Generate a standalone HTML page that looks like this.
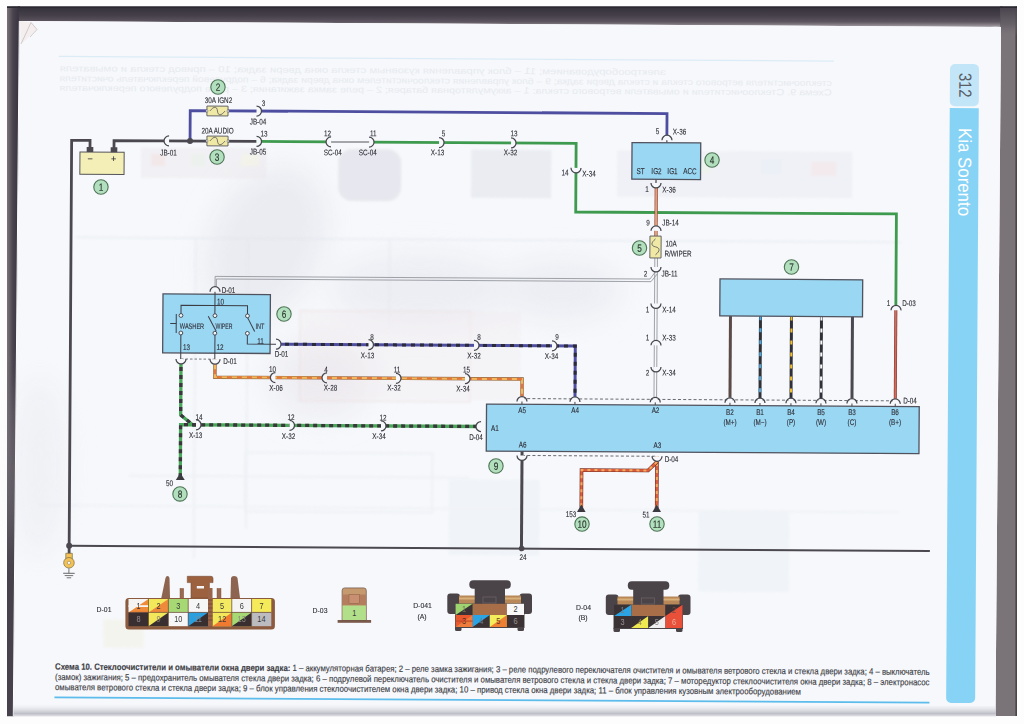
<!DOCTYPE html><html><head><meta charset="utf-8"><style>html,body{margin:0;padding:0;background:#fdfdfd;width:1024px;height:724px;overflow:hidden}svg{display:block}text{font-family:"Liberation Sans",sans-serif}</style></head><body>
<svg width="1024" height="724" viewBox="0 0 1024 724">
<defs><linearGradient id="gTop" x1="0" y1="0" x2="0" y2="1"><stop offset="0" stop-color="#34303a"/><stop offset="0.45" stop-color="#45404a"/><stop offset="0.75" stop-color="#5e5660"/><stop offset="1" stop-color="#a8a0a6"/></linearGradient><linearGradient id="gLeft" x1="0" y1="0" x2="1" y2="0"><stop offset="0" stop-color="#7a7378"/><stop offset="0.45" stop-color="#4a4450"/><stop offset="0.85" stop-color="#3a3540"/><stop offset="1" stop-color="#2a282e"/></linearGradient><linearGradient id="gRight" x1="0" y1="0" x2="1" y2="0"><stop offset="0" stop-color="#5a5560"/><stop offset="0.4" stop-color="#7a7479"/><stop offset="1" stop-color="#5c585e"/></linearGradient><linearGradient id="gBot" x1="0" y1="0" x2="0" y2="1"><stop offset="0" stop-color="#f3f4f8" stop-opacity="0"/><stop offset="0.75" stop-color="#bfbfc8"/><stop offset="1" stop-color="#e8e8ec"/></linearGradient><linearGradient id="gRT" x1="0" y1="0" x2="0" y2="1"><stop offset="0" stop-color="#45404a"/><stop offset="0.6" stop-color="#5e5860" stop-opacity="0.7"/><stop offset="1" stop-color="#7a7479" stop-opacity="0"/></linearGradient><linearGradient id="gFade" x1="0" y1="0" x2="0" y2="1"><stop offset="0" stop-color="#fff"/><stop offset="0.5" stop-color="#fff"/><stop offset="0.8" stop-color="#000"/></linearGradient><mask id="mLeft"><rect x="0" y="0" width="30" height="724" fill="url(#gFade)"/></mask></defs>
<rect width="1024" height="724" fill="#fdfdfd"/>
<polygon points="7,6.5 20,6.5 20,21 14,710 14,716.5 7,716.5" fill="#46414a"/>
<polygon points="7,6.5 20,6.5 20,21 14,710 14,716.5 7,716.5" fill="url(#gLeft)" mask="url(#mLeft)"/>
<polygon points="18,6.5 1003,6.5 1001,27 19,21" fill="url(#gTop)"/>
<polygon points="1000,6.5 1017,6.5 1017,716 995.5,716 1001,27" fill="#7a7479"/>
<line x1="1016.2" y1="6.5" x2="1016.2" y2="716" stroke="#4a4548" stroke-width="1.6"/>
<rect x="1000" y="6.5" width="17" height="30" fill="url(#gRT)"/>
<path d="M990,27 Q996,26 1001,27 L1000.5,37 Q995,31 990,27 Z" fill="#d8d4d8"/>
<rect x="7" y="6.5" width="1010" height="1.5" fill="#2a2830"/>
<polygon points="19.5,21 1001,27 995.5,716 13.5,716" fill="#f6f8fb"/>
<line x1="19.3" y1="21" x2="13.3" y2="716" stroke="#ffffff" stroke-width="1"/>
<polygon points="20,21 31,22.5 37,29.5 21,44" fill="#f4eeee"/>
<polyline points="21,44 31,22.5 37,29.5 30,37" fill="none" stroke="#b8aeb0" stroke-width="0.6"/>
<polygon points="13.5,703 996,706 996,717 13.5,717" fill="url(#gBot)"/>
<rect x="0" y="716.5" width="1024" height="8" fill="#fdfdfd"/>
<g transform="rotate(0.35 512 362)">
<defs><filter id="blur6" x="-50%" y="-50%" width="200%" height="200%"><feGaussianBlur stdDeviation="14"/></filter><filter id="blur2"><feGaussianBlur stdDeviation="1.2"/></filter></defs>
<g filter="url(#blur6)" opacity="0.35">
<ellipse cx="265" cy="245" rx="55" ry="80" fill="#d6d6e0" transform="rotate(25 265 245)"/>
<ellipse cx="420" cy="290" rx="90" ry="35" fill="#dcdce6"/>
<ellipse cx="560" cy="290" rx="60" ry="30" fill="#dcdce6"/>
<ellipse cx="320" cy="380" rx="50" ry="40" fill="#e0dce4"/>
<ellipse cx="40" cy="470" rx="25" ry="90" fill="#e4e4ea"/>
</g>
<g filter="url(#blur2)" opacity="0.45">
<rect x="140" y="150" width="125" height="30" fill="#ebe6ea"/>
<rect x="150" y="156" width="14" height="12" fill="#eed6d6"/><rect x="190" y="156" width="14" height="12" fill="#dfe9dc"/><rect x="240" y="156" width="18" height="12" fill="#f1edd8"/>
<rect x="337" y="150" width="63" height="52" rx="14" fill="#d6d6df"/>
<rect x="470" y="150" width="80" height="48" fill="#dcdee6"/>
<rect x="616" y="150" width="235" height="46" fill="#e8e8ef"/>
<rect x="640" y="158" width="20" height="14" fill="#eedada"/><rect x="690" y="158" width="20" height="14" fill="#e4eedd"/><rect x="760" y="158" width="20" height="14" fill="#dbe6f0"/><rect x="810" y="160" width="25" height="14" fill="#eedada"/>
<rect x="300" y="312" width="170" height="90" fill="none" stroke="#ecdcdc" stroke-width="2"/>
<rect x="450" y="480" width="90" height="75" fill="#e8eef4"/>
<rect x="700" y="510" width="90" height="80" fill="#e8eef4"/>
<line x1="75" y1="240" x2="900" y2="240" stroke="#dfe2ea" stroke-width="1.6"/>
<line x1="195" y1="240" x2="195" y2="560" stroke="#e2e4ec" stroke-width="1.6"/>
<line x1="247" y1="240" x2="247" y2="530" stroke="#e2e4ec" stroke-width="1.6"/>
<line x1="389" y1="240" x2="389" y2="330" stroke="#e2e4ec" stroke-width="1.6"/>
<rect x="246" y="454" width="187" height="59" fill="none" stroke="#e4e6ee" stroke-width="1.6"/>
<rect x="302" y="312" width="218" height="88" fill="#f2e6ea" opacity="0.6"/>
<line x1="130" y1="478" x2="470" y2="478" stroke="#e4e6ee" stroke-width="1.6"/>
<line x1="40" y1="508" x2="900" y2="510" stroke="#e8eaf0" stroke-width="1.5"/>
<rect x="105" y="622" width="40" height="28" fill="#f2f0e0"/>
</g>
<rect x="57" y="58.5" width="775" height="1.3" fill="#dcecf6"/>
<text transform="translate(664,74) scale(-1,1)" font-size="9" fill="#e8eaef" textLength="606" lengthAdjust="spacingAndGlyphs">электрооборудованием; 11 – блок управления кузовным стекла окна двери задка; 10 – привод стекла и омывателя</text>
<text transform="translate(830,84) scale(-1,1)" font-size="9" fill="#e8eaef" textLength="772" lengthAdjust="spacingAndGlyphs">стеклоочистителя ветрового стекла и стекла двери задка; 9 – блок управления стеклоочистителем окна двери задка; 6 – подрулевой переключатель очистителя</text>
<text transform="translate(830,93.5) scale(-1,1)" font-size="9" fill="#e8eaef" textLength="772" lengthAdjust="spacingAndGlyphs">Схема 9. Стеклоочистители и омыватели ветрового стекла: 1 – аккумуляторная батарея; 2 – реле замка зажигания; 3 – реле подрулевого переключателя</text>
<path d="M948.2,105.3 H977.2 V695.2 a5,5 0 0 1 -5,5 h-19 a5,5 0 0 1 -5,-5 Z" fill="#86d3f5"/>
<rect x="948.2" y="61.3" width="29" height="42.2" rx="5" fill="#c2e6f7"/>
<text transform="translate(957.5,82.5) rotate(90) scale(0.84,1)" text-anchor="middle" font-size="17.6" fill="#5a5c66">312</text>
<text transform="translate(957.2,169.3) rotate(90) scale(0.915,1)" text-anchor="middle" font-size="18.4" fill="#ffffff">Kia Sorento</text>
<polyline points="88.7,150.5 88.7,143 70.3,143 70.3,558" fill="none" stroke="#4b4850" stroke-width="2.8" />
<polyline points="112.7,150.5 112.7,143 255.2,143" fill="none" stroke="#4b4850" stroke-width="2.8" />
<polyline points="188.7,143 188.7,112.6 665.5,112.6 665.5,135.6" fill="none" stroke="#4e4ea0" stroke-width="2.8" />
<polyline points="255.2,143 329.7,143" fill="none" stroke="#3e9a4e" stroke-width="2.8" />
<polyline points="329.7,143 367.7,143" fill="none" stroke="#55555c" stroke-width="1.0" />
<polyline points="367.7,143 574.8,143 574.8,211.6 895.5,211.6 895.5,304.7" fill="none" stroke="#3e9a4e" stroke-width="2.8" />
<polyline points="665.5,135.6 665.5,141.8" fill="none" stroke="#4b4850" stroke-width="1.2" />
<polyline points="654.9,178.4 654.9,182.1" fill="none" stroke="#4b4850" stroke-width="1.2" />
<polyline points="655.2,182.1 655.2,235.2" fill="none" stroke="#7a4a3a" stroke-width="3.2" />
<polyline points="655.2,182.1 655.2,235.2" fill="none" stroke="#ea9a78" stroke-width="2.0" />
<polyline points="654.2,257 654.2,398" fill="none" stroke="#8a8c94" stroke-width="0.8" />
<polyline points="656.8,257 656.8,398" fill="none" stroke="#8a8c94" stroke-width="0.8" />
<polyline points="214.6,290.3 214.6,278.2 649.5,278.2 655.5,270" fill="none" stroke="#8a8c94" stroke-width="0.8" />
<polyline points="215.9,290.3 215.9,280.8 650.5,280.8 656.8,273" fill="none" stroke="#8a8c94" stroke-width="0.8" />
<polyline points="895.5,304.7 895.5,398" fill="none" stroke="#7a3a32" stroke-width="3.0" />
<polyline points="895.5,304.7 895.5,398" fill="none" stroke="#d56a5c" stroke-width="1.8" />
<polyline points="275.9,345.6 575.2,345.6 575.2,398" fill="none" stroke="#4e4ea0" stroke-width="3.0" />
<polyline points="275.9,345.6 575.2,345.6 575.2,398" fill="none" stroke="#2c2a36" stroke-width="3.0" stroke-dasharray="4 5" />
<polyline points="215,361 215,379 522.2,379 522.2,398" fill="none" stroke="#8a6040" stroke-width="3.4" />
<polyline points="215,361 215,379 522.2,379 522.2,398" fill="none" stroke="#f2b85a" stroke-width="2.2" />
<polyline points="215,361 215,379 522.2,379 522.2,398" fill="none" stroke="#e2743e" stroke-width="2.2" stroke-dasharray="5 5" />
<polyline points="181,361 181,417 193,426.7 481.4,426.7" fill="none" stroke="#4aa85a" stroke-width="3.3" />
<polyline points="181,361 181,417 193,426.7 481.4,426.7" fill="none" stroke="#3a363c" stroke-width="3.3" stroke-dasharray="4 4" />
<polyline points="196.4,426.7 181,426.7 181,478" fill="none" stroke="#4aa85a" stroke-width="3.3" />
<polyline points="196.4,426.7 181,426.7 181,478" fill="none" stroke="#3a363c" stroke-width="3.3" stroke-dasharray="4 4" />
<polygon points="181,475 176.5,482 185.5,482" fill="#3a3a40"/>
<polyline points="522.6,451 522.6,548.5" fill="none" stroke="#4b4850" stroke-width="3.0" />
<polyline points="657.6,455.1 657.6,507" fill="none" stroke="#6a3028" stroke-width="3.6" />
<polyline points="657.6,455.1 657.6,507" fill="none" stroke="#dc5e3c" stroke-width="2.4" />
<polyline points="657.6,455.1 657.6,507" fill="none" stroke="#f4a860" stroke-width="2.0" stroke-dasharray="3 4" />
<polyline points="657.6,461 648.7,469.6 582.2,469.6 582.2,507" fill="none" stroke="#6a3028" stroke-width="3.6" />
<polyline points="657.6,461 648.7,469.6 582.2,469.6 582.2,507" fill="none" stroke="#dc5e3c" stroke-width="2.4" />
<polyline points="657.6,461 648.7,469.6 582.2,469.6 582.2,507" fill="none" stroke="#f4a860" stroke-width="2.0" stroke-dasharray="3 4" />
<polygon points="657.6,503.6 653.3,511.2 661.9,511.2" fill="#3a3a40"/>
<polygon points="582.2,504 577.9,511.6 586.5,511.6" fill="#3a3a40"/>
<polyline points="70.2,548.5 931,548.5" fill="none" stroke="#4b4850" stroke-width="2.0" />
<circle cx="70.3" cy="548.5" r="3" fill="#4b4850"/>
<circle cx="522.8" cy="548.5" r="2.8" fill="#4b4850"/>
<circle cx="188.7" cy="143" r="3" fill="#4b4850"/>
<rect x="67" y="556" width="6.5" height="6" fill="#f2c257" stroke="#7a6a40" stroke-width="0.7"/>
<circle cx="70.2" cy="565.5" r="5.3" fill="#f2c257" stroke="#7a6a40" stroke-width="0.7"/>
<circle cx="70.2" cy="565.5" r="1.6" fill="#fff" stroke="#7a6a40" stroke-width="0.5"/>
<line x1="70.2" y1="571" x2="70.2" y2="576" stroke="#555" stroke-width="0.8"/>
<line x1="64.5" y1="576" x2="76" y2="576" stroke="#555" stroke-width="0.9"/>
<line x1="66" y1="578.3" x2="74.5" y2="578.3" stroke="#555" stroke-width="0.8"/>
<line x1="68" y1="580.5" x2="72.5" y2="580.5" stroke="#555" stroke-width="0.8"/>
<polyline points="730.2,314.7 730.2,398" fill="none" stroke="#5a4a48" stroke-width="3.0" />
<polyline points="760.2,314.7 760.2,398" fill="none" stroke="#303038" stroke-width="3.0" />
<polyline points="760.2,314.7 760.2,398" fill="none" stroke="#4aa8e0" stroke-width="2.0" stroke-dasharray="4 8" />
<polyline points="791.2,314.7 791.2,398" fill="none" stroke="#303038" stroke-width="3.0" />
<polyline points="791.2,314.7 791.2,398" fill="none" stroke="#f0c030" stroke-width="2.0" stroke-dasharray="4 8" />
<polyline points="821.2,314.7 821.2,398" fill="none" stroke="#303038" stroke-width="3.0" />
<polyline points="821.2,314.7 821.2,398" fill="none" stroke="#f8f8f8" stroke-width="2.0" stroke-dasharray="4 8" />
<polyline points="852.2,314.7 852.2,398" fill="none" stroke="#4a4850" stroke-width="3.0" />
<rect x="630.7" y="141.8" width="68.7" height="36.6" fill="#9ad7f3" stroke="#50525e" stroke-width="1.3"/>
<rect x="162.6" y="296" width="107.4" height="59" fill="#9ad7f3" stroke="#50525e" stroke-width="1.3"/>
<rect x="719.5" y="277.7" width="142.7" height="37" fill="#9ad7f3" stroke="#50525e" stroke-width="1.3"/>
<rect x="486.8" y="404.2" width="432.7" height="47" fill="#9ad7f3" stroke="#50525e" stroke-width="1.3"/>
<rect x="78.7" y="154.6" width="44.2" height="22.3" fill="#f3efb6" stroke="#55555a" stroke-width="1"/>
<rect x="85.4" y="149.6" width="6.6" height="5" fill="#4b4850"/>
<rect x="109.4" y="149.6" width="6.6" height="5" fill="#4b4850"/>
<text transform="translate(89,164.28) scale(1,1)" text-anchor="middle" font-size="9" fill="#2e2e36" stroke="#2e2e36" stroke-width="0.12" font-weight="normal">−</text>
<text transform="translate(112.5,164.28) scale(1,1)" text-anchor="middle" font-size="9" fill="#2e2e36" stroke="#2e2e36" stroke-width="0.12" font-weight="normal">+</text>
<rect x="205.4" y="107.9" width="21.1" height="9.8" fill="#f0e9a6" stroke="#55555a" stroke-width="0.9"/>
<path d="M208.4,112.80000000000001 C212.4,107.80000000000001 215.4,107.80000000000001 215.95000000000002,112.80000000000001 S219.5,117.80000000000001 223.5,112.80000000000001" fill="none" stroke="#55555a" stroke-width="0.8"/>
<circle cx="205.4" cy="112.80000000000001" r="1.1" fill="#fff" stroke="#55555a" stroke-width="0.5"/>
<circle cx="226.5" cy="112.80000000000001" r="1.1" fill="#fff" stroke="#55555a" stroke-width="0.5"/>
<rect x="205.6" y="137.9" width="21.1" height="9.8" fill="#f0e9a6" stroke="#55555a" stroke-width="0.9"/>
<path d="M208.6,142.8 C212.6,137.8 215.6,137.8 216.15,142.8 S219.7,147.8 223.7,142.8" fill="none" stroke="#55555a" stroke-width="0.8"/>
<circle cx="205.6" cy="142.8" r="1.1" fill="#fff" stroke="#55555a" stroke-width="0.5"/>
<circle cx="226.7" cy="142.8" r="1.1" fill="#fff" stroke="#55555a" stroke-width="0.5"/>
<rect x="649.2" y="235.2" width="11.2" height="21.9" fill="#f0e9a6" stroke="#55555a" stroke-width="0.9"/>
<path d="M654.8,238 C650,242 650,245 654.8,246 S659.5,250 654.8,254" fill="none" stroke="#55555a" stroke-width="0.8"/>
<g stroke="#3c3c44" stroke-width="1" fill="none"><line x1="214.6" y1="290.3" x2="214.6" y2="307.3"/><polyline points="180.7,317 180.7,307.3 247.2,307.3 247.2,317"/><line x1="214.6" y1="307.3" x2="214.6" y2="317"/><line x1="176" y1="316" x2="176" y2="335"/><line x1="170" y1="325.5" x2="176" y2="325.5"/><line x1="208" y1="318" x2="216" y2="333"/><line x1="247.2" y1="319" x2="254.5" y2="333"/><polyline points="180.7,336 180.7,361"/><polyline points="214.8,336 214.8,361"/><polyline points="247.2,336 247.2,345.6 275.9,345.6"/></g>
<circle cx="180.7" cy="317.5" r="1.9" fill="#f4f6f8" stroke="#3c3c44" stroke-width="0.9"/>
<circle cx="180.7" cy="335" r="1.9" fill="#f4f6f8" stroke="#3c3c44" stroke-width="0.9"/>
<circle cx="214.7" cy="317.5" r="1.9" fill="#f4f6f8" stroke="#3c3c44" stroke-width="0.9"/>
<circle cx="214.7" cy="335" r="1.9" fill="#f4f6f8" stroke="#3c3c44" stroke-width="0.9"/>
<circle cx="247.2" cy="317.5" r="1.9" fill="#f4f6f8" stroke="#3c3c44" stroke-width="0.9"/>
<circle cx="247.2" cy="335" r="1.9" fill="#f4f6f8" stroke="#3c3c44" stroke-width="0.9"/>
<line x1="181" y1="361" x2="215" y2="361" stroke="#6a6a72" stroke-width="0.9" stroke-dasharray="2.5 2"/>
<line x1="522.2" y1="398.5" x2="895.5" y2="398.5" stroke="#5a5a62" stroke-width="0.9" stroke-dasharray="3 2.2"/>
<line x1="522.6" y1="455.4" x2="657.6" y2="455.4" stroke="#5a5a62" stroke-width="0.9" stroke-dasharray="3 2.2"/>
<line x1="522.2" y1="398" x2="522.2" y2="404.2" stroke="#45454d" stroke-width="1"/>
<line x1="575.2" y1="398" x2="575.2" y2="404.2" stroke="#45454d" stroke-width="1"/>
<line x1="655.5" y1="398" x2="655.5" y2="404.2" stroke="#45454d" stroke-width="1"/>
<line x1="730.2" y1="398" x2="730.2" y2="404.2" stroke="#45454d" stroke-width="1"/>
<line x1="760.2" y1="398" x2="760.2" y2="404.2" stroke="#45454d" stroke-width="1"/>
<line x1="791.2" y1="398" x2="791.2" y2="404.2" stroke="#45454d" stroke-width="1"/>
<line x1="821.2" y1="398" x2="821.2" y2="404.2" stroke="#45454d" stroke-width="1"/>
<line x1="852.2" y1="398" x2="852.2" y2="404.2" stroke="#45454d" stroke-width="1"/>
<line x1="895.5" y1="398" x2="895.5" y2="404.2" stroke="#45454d" stroke-width="1"/>
<rect x="162.7" y="140.5" width="5" height="5" fill="#f6f8fb"/>
<path d="M167.7,138 A5,5 0 0 0 167.7,148" fill="none" stroke="#45454d" stroke-width="1.25"/>
<rect x="255" y="110.1" width="5" height="5" fill="#f6f8fb"/>
<path d="M255,107.6 A5,5 0 0 1 255,117.6" fill="none" stroke="#45454d" stroke-width="1.25"/>
<rect x="255.2" y="140.5" width="5" height="5" fill="#f6f8fb"/>
<path d="M255.2,138 A5,5 0 0 1 255.2,148" fill="none" stroke="#45454d" stroke-width="1.25"/>
<rect x="324.7" y="140.5" width="5" height="5" fill="#f6f8fb"/>
<path d="M329.7,138 A5,5 0 0 0 329.7,148" fill="none" stroke="#45454d" stroke-width="1.25"/>
<rect x="367.7" y="140.5" width="5" height="5" fill="#f6f8fb"/>
<path d="M367.7,138 A5,5 0 0 1 367.7,148" fill="none" stroke="#45454d" stroke-width="1.25"/>
<rect x="437.7" y="140.5" width="5" height="5" fill="#f6f8fb"/>
<path d="M437.7,138 A5,5 0 0 1 437.7,148" fill="none" stroke="#45454d" stroke-width="1.25"/>
<rect x="509.7" y="140.5" width="5" height="5" fill="#f6f8fb"/>
<path d="M509.7,138 A5,5 0 0 1 509.7,148" fill="none" stroke="#45454d" stroke-width="1.25"/>
<rect x="663.1" y="134.3" width="5" height="5" fill="#f6f8fb"/>
<path d="M660.6,139.3 A5,5 0 0 1 670.6,139.3" fill="none" stroke="#45454d" stroke-width="1.25"/>
<rect x="572.3" y="167.5" width="5" height="5" fill="#f6f8fb"/>
<path d="M569.8,167.5 A5,5 0 0 0 579.8,167.5" fill="none" stroke="#45454d" stroke-width="1.25"/>
<rect x="652.4" y="182.1" width="5" height="5" fill="#f6f8fb"/>
<path d="M649.9,182.1 A5,5 0 0 0 659.9,182.1" fill="none" stroke="#45454d" stroke-width="1.25"/>
<rect x="652.7" y="225" width="5" height="5" fill="#f6f8fb"/>
<path d="M650.2,230 A5,5 0 0 1 660.2,230" fill="none" stroke="#45454d" stroke-width="1.25"/>
<rect x="652.9" y="266.1" width="5" height="5" fill="#f6f8fb"/>
<path d="M650.4,266.1 A5,5 0 0 0 660.4,266.1" fill="none" stroke="#45454d" stroke-width="1.25"/>
<rect x="653.1" y="302.6" width="5" height="5" fill="#f6f8fb"/>
<path d="M650.6,302.6 A5,5 0 0 0 660.6,302.6" fill="none" stroke="#45454d" stroke-width="1.25"/>
<rect x="653.4" y="339.5" width="5" height="5" fill="#f6f8fb"/>
<path d="M650.9,344.5 A5,5 0 0 1 660.9,344.5" fill="none" stroke="#45454d" stroke-width="1.25"/>
<rect x="653.5" y="366.1" width="5" height="5" fill="#f6f8fb"/>
<path d="M651,366.1 A5,5 0 0 0 661,366.1" fill="none" stroke="#45454d" stroke-width="1.25"/>
<rect x="212.1" y="288.5" width="5" height="5" fill="#f6f8fb"/>
<path d="M209.6,293.5 A5,5 0 0 1 219.6,293.5" fill="none" stroke="#45454d" stroke-width="1.25"/>
<rect x="275.9" y="343.1" width="5" height="5" fill="#f6f8fb"/>
<path d="M275.9,340.6 A5,5 0 0 1 275.9,350.6" fill="none" stroke="#45454d" stroke-width="1.25"/>
<rect x="178.5" y="361" width="5" height="5" fill="#f6f8fb"/>
<path d="M176,361 A5,5 0 0 0 186,361" fill="none" stroke="#45454d" stroke-width="1.25"/>
<rect x="212.5" y="361" width="5" height="5" fill="#f6f8fb"/>
<path d="M210,361 A5,5 0 0 0 220,361" fill="none" stroke="#45454d" stroke-width="1.25"/>
<rect x="368.4" y="343.1" width="5" height="5" fill="#f6f8fb"/>
<path d="M368.4,340.6 A5,5 0 0 1 368.4,350.6" fill="none" stroke="#45454d" stroke-width="1.25"/>
<rect x="473.9" y="343.1" width="5" height="5" fill="#f6f8fb"/>
<path d="M473.9,340.6 A5,5 0 0 1 473.9,350.6" fill="none" stroke="#45454d" stroke-width="1.25"/>
<rect x="551.9" y="343.1" width="5" height="5" fill="#f6f8fb"/>
<path d="M551.9,340.6 A5,5 0 0 1 551.9,350.6" fill="none" stroke="#45454d" stroke-width="1.25"/>
<rect x="270.5" y="376.5" width="5" height="5" fill="#f6f8fb"/>
<path d="M275.5,374 A5,5 0 0 0 275.5,384" fill="none" stroke="#45454d" stroke-width="1.25"/>
<rect x="322.1" y="376.5" width="5" height="5" fill="#f6f8fb"/>
<path d="M327.1,374 A5,5 0 0 0 327.1,384" fill="none" stroke="#45454d" stroke-width="1.25"/>
<rect x="396.1" y="376.5" width="5" height="5" fill="#f6f8fb"/>
<path d="M396.1,374 A5,5 0 0 1 396.1,384" fill="none" stroke="#45454d" stroke-width="1.25"/>
<rect x="465.1" y="376.5" width="5" height="5" fill="#f6f8fb"/>
<path d="M465.1,374 A5,5 0 0 1 465.1,384" fill="none" stroke="#45454d" stroke-width="1.25"/>
<rect x="519.7" y="396.5" width="5" height="5" fill="#f6f8fb"/>
<path d="M517.2,401.5 A5,5 0 0 1 527.2,401.5" fill="none" stroke="#45454d" stroke-width="1.25"/>
<rect x="572.7" y="396.5" width="5" height="5" fill="#f6f8fb"/>
<path d="M570.2,401.5 A5,5 0 0 1 580.2,401.5" fill="none" stroke="#45454d" stroke-width="1.25"/>
<rect x="653" y="396.5" width="5" height="5" fill="#f6f8fb"/>
<path d="M650.5,401.5 A5,5 0 0 1 660.5,401.5" fill="none" stroke="#45454d" stroke-width="1.25"/>
<rect x="727.7" y="396.5" width="5" height="5" fill="#f6f8fb"/>
<path d="M725.2,401.5 A5,5 0 0 1 735.2,401.5" fill="none" stroke="#45454d" stroke-width="1.25"/>
<rect x="757.7" y="396.5" width="5" height="5" fill="#f6f8fb"/>
<path d="M755.2,401.5 A5,5 0 0 1 765.2,401.5" fill="none" stroke="#45454d" stroke-width="1.25"/>
<rect x="788.7" y="396.5" width="5" height="5" fill="#f6f8fb"/>
<path d="M786.2,401.5 A5,5 0 0 1 796.2,401.5" fill="none" stroke="#45454d" stroke-width="1.25"/>
<rect x="818.7" y="396.5" width="5" height="5" fill="#f6f8fb"/>
<path d="M816.2,401.5 A5,5 0 0 1 826.2,401.5" fill="none" stroke="#45454d" stroke-width="1.25"/>
<rect x="849.7" y="396.5" width="5" height="5" fill="#f6f8fb"/>
<path d="M847.2,401.5 A5,5 0 0 1 857.2,401.5" fill="none" stroke="#45454d" stroke-width="1.25"/>
<rect x="893" y="396.5" width="5" height="5" fill="#f6f8fb"/>
<path d="M890.5,401.5 A5,5 0 0 1 900.5,401.5" fill="none" stroke="#45454d" stroke-width="1.25"/>
<rect x="893.2" y="303" width="5" height="5" fill="#f6f8fb"/>
<path d="M890.7,308 A5,5 0 0 1 900.7,308" fill="none" stroke="#45454d" stroke-width="1.25"/>
<rect x="196.4" y="424.2" width="5" height="5" fill="#f6f8fb"/>
<path d="M196.4,421.7 A5,5 0 0 1 196.4,431.7" fill="none" stroke="#45454d" stroke-width="1.25"/>
<rect x="289.9" y="424.2" width="5" height="5" fill="#f6f8fb"/>
<path d="M289.9,421.7 A5,5 0 0 1 289.9,431.7" fill="none" stroke="#45454d" stroke-width="1.25"/>
<rect x="381.4" y="424.2" width="5" height="5" fill="#f6f8fb"/>
<path d="M381.4,421.7 A5,5 0 0 1 381.4,431.7" fill="none" stroke="#45454d" stroke-width="1.25"/>
<rect x="476.4" y="424.2" width="5" height="5" fill="#f6f8fb"/>
<path d="M481.4,421.7 A5,5 0 0 0 481.4,431.7" fill="none" stroke="#45454d" stroke-width="1.25"/>
<rect x="520.1" y="455.4" width="5" height="5" fill="#f6f8fb"/>
<path d="M517.6,455.4 A5,5 0 0 0 527.6,455.4" fill="none" stroke="#45454d" stroke-width="1.25"/>
<rect x="655.1" y="455.4" width="5" height="5" fill="#f6f8fb"/>
<path d="M652.6,455.4 A5,5 0 0 0 662.6,455.4" fill="none" stroke="#45454d" stroke-width="1.25"/>
<text transform="translate(216.91,104.79) scale(0.77,1)" text-anchor="middle" font-size="8.2" fill="#2e2e36" stroke="#2e2e36" stroke-width="0.12" font-weight="normal">30A  IGN2</text>
<text transform="translate(216.09,135.29) scale(0.77,1)" text-anchor="middle" font-size="8.2" fill="#2e2e36" stroke="#2e2e36" stroke-width="0.12" font-weight="normal">20A  AUDIO</text>
<text transform="translate(261.92,107.51) scale(0.77,1)" text-anchor="middle" font-size="8.2" fill="#2e2e36" stroke="#2e2e36" stroke-width="0.12" font-weight="normal">3</text>
<text transform="translate(256.54,126.04) scale(0.77,1)" text-anchor="middle" font-size="8.2" fill="#2e2e36" stroke="#2e2e36" stroke-width="0.12" font-weight="normal">JB-04</text>
<text transform="translate(262.61,138.01) scale(0.77,1)" text-anchor="middle" font-size="8.2" fill="#2e2e36" stroke="#2e2e36" stroke-width="0.12" font-weight="normal">13</text>
<text transform="translate(256.72,156.04) scale(0.77,1)" text-anchor="middle" font-size="8.2" fill="#2e2e36" stroke="#2e2e36" stroke-width="0.12" font-weight="normal">JB-05</text>
<text transform="translate(167.23,157.59) scale(0.77,1)" text-anchor="middle" font-size="8.2" fill="#2e2e36" stroke="#2e2e36" stroke-width="0.12" font-weight="normal">JB-01</text>
<text transform="translate(326.11,137.42) scale(0.77,1)" text-anchor="middle" font-size="8.2" fill="#2e2e36" stroke="#2e2e36" stroke-width="0.12" font-weight="normal">12</text>
<text transform="translate(331.52,156.39) scale(0.77,1)" text-anchor="middle" font-size="8.2" fill="#2e2e36" stroke="#2e2e36" stroke-width="0.12" font-weight="normal">SC-04</text>
<text transform="translate(371.91,137.14) scale(0.77,1)" text-anchor="middle" font-size="8.2" fill="#2e2e36" stroke="#2e2e36" stroke-width="0.12" font-weight="normal">11</text>
<text transform="translate(366.52,156.17) scale(0.77,1)" text-anchor="middle" font-size="8.2" fill="#2e2e36" stroke="#2e2e36" stroke-width="0.12" font-weight="normal">SC-04</text>
<text transform="translate(442.1,136.71) scale(0.77,1)" text-anchor="middle" font-size="8.2" fill="#2e2e36" stroke="#2e2e36" stroke-width="0.12" font-weight="normal">5</text>
<text transform="translate(436.22,155.75) scale(0.77,1)" text-anchor="middle" font-size="8.2" fill="#2e2e36" stroke="#2e2e36" stroke-width="0.12" font-weight="normal">X-13</text>
<text transform="translate(512.6,136.28) scale(0.77,1)" text-anchor="middle" font-size="8.2" fill="#2e2e36" stroke="#2e2e36" stroke-width="0.12" font-weight="normal">13</text>
<text transform="translate(509.22,155.3) scale(0.77,1)" text-anchor="middle" font-size="8.2" fill="#2e2e36" stroke="#2e2e36" stroke-width="0.12" font-weight="normal">X-32</text>
<text transform="translate(563.84,175.17) scale(0.77,1)" text-anchor="middle" font-size="8.2" fill="#2e2e36" stroke="#2e2e36" stroke-width="0.12" font-weight="normal">14</text>
<text transform="translate(587.85,176.02) scale(0.77,1)" text-anchor="middle" font-size="8.2" fill="#2e2e36" stroke="#2e2e36" stroke-width="0.12" font-weight="normal">X-34</text>
<text transform="translate(656.09,133.1) scale(0.77,1)" text-anchor="middle" font-size="8.2" fill="#2e2e36" stroke="#2e2e36" stroke-width="0.12" font-weight="normal">5</text>
<text transform="translate(678.09,133.47) scale(0.77,1)" text-anchor="middle" font-size="8.2" fill="#2e2e36" stroke="#2e2e36" stroke-width="0.12" font-weight="normal">X-36</text>
<text transform="translate(645.94,191.17) scale(0.77,1)" text-anchor="middle" font-size="8.2" fill="#2e2e36" stroke="#2e2e36" stroke-width="0.12" font-weight="normal">1</text>
<text transform="translate(667.94,191.53) scale(0.77,1)" text-anchor="middle" font-size="8.2" fill="#2e2e36" stroke="#2e2e36" stroke-width="0.12" font-weight="normal">X-36</text>
<text transform="translate(647.15,224.66) scale(0.77,1)" text-anchor="middle" font-size="8.2" fill="#2e2e36" stroke="#2e2e36" stroke-width="0.12" font-weight="normal">9</text>
<text transform="translate(669.64,224.52) scale(0.77,1)" text-anchor="middle" font-size="8.2" fill="#2e2e36" stroke="#2e2e36" stroke-width="0.12" font-weight="normal">JB-14</text>
<text transform="translate(670.27,245.52) scale(0.77,1)" text-anchor="middle" font-size="8.2" fill="#2e2e36" stroke="#2e2e36" stroke-width="0.12" font-weight="normal">10A</text>
<text transform="translate(677.33,255.48) scale(0.77,1)" text-anchor="middle" font-size="8.2" fill="#2e2e36" stroke="#2e2e36" stroke-width="0.12" font-weight="normal">R/WIPER</text>
<text transform="translate(644.96,275.68) scale(0.77,1)" text-anchor="middle" font-size="8.2" fill="#2e2e36" stroke="#2e2e36" stroke-width="0.12" font-weight="normal">2</text>
<text transform="translate(668.96,275.53) scale(0.77,1)" text-anchor="middle" font-size="8.2" fill="#2e2e36" stroke="#2e2e36" stroke-width="0.12" font-weight="normal">JB-11</text>
<text transform="translate(647.18,311.66) scale(0.77,1)" text-anchor="middle" font-size="8.2" fill="#2e2e36" stroke="#2e2e36" stroke-width="0.12" font-weight="normal">1</text>
<text transform="translate(668.68,311.53) scale(0.77,1)" text-anchor="middle" font-size="8.2" fill="#2e2e36" stroke="#2e2e36" stroke-width="0.12" font-weight="normal">X-14</text>
<text transform="translate(647.35,339.66) scale(0.77,1)" text-anchor="middle" font-size="8.2" fill="#2e2e36" stroke="#2e2e36" stroke-width="0.12" font-weight="normal">1</text>
<text transform="translate(668.85,339.53) scale(0.77,1)" text-anchor="middle" font-size="8.2" fill="#2e2e36" stroke="#2e2e36" stroke-width="0.12" font-weight="normal">X-33</text>
<text transform="translate(647.56,374.66) scale(0.77,1)" text-anchor="middle" font-size="8.2" fill="#2e2e36" stroke="#2e2e36" stroke-width="0.12" font-weight="normal">2</text>
<text transform="translate(669.06,374.53) scale(0.77,1)" text-anchor="middle" font-size="8.2" fill="#2e2e36" stroke="#2e2e36" stroke-width="0.12" font-weight="normal">X-34</text>
<text transform="translate(228.07,294.72) scale(0.77,1)" text-anchor="middle" font-size="8.2" fill="#2e2e36" stroke="#2e2e36" stroke-width="0.12" font-weight="normal">D-01</text>
<text transform="translate(220.14,306.27) scale(0.77,1)" text-anchor="middle" font-size="8.2" fill="#2e2e36" stroke="#2e2e36" stroke-width="0.12" font-weight="normal">10</text>
<text transform="translate(186.41,351.98) scale(0.77,1)" text-anchor="middle" font-size="8.2" fill="#2e2e36" stroke="#2e2e36" stroke-width="0.12" font-weight="normal">13</text>
<text transform="translate(219.91,351.77) scale(0.77,1)" text-anchor="middle" font-size="8.2" fill="#2e2e36" stroke="#2e2e36" stroke-width="0.12" font-weight="normal">12</text>
<text transform="translate(260.38,345.53) scale(0.77,1)" text-anchor="middle" font-size="8.2" fill="#2e2e36" stroke="#2e2e36" stroke-width="0.12" font-weight="normal">11</text>
<text transform="translate(281.45,358.2) scale(0.77,1)" text-anchor="middle" font-size="8.2" fill="#2e2e36" stroke="#2e2e36" stroke-width="0.12" font-weight="normal">D-01</text>
<text transform="translate(230,365.71) scale(0.77,1)" text-anchor="middle" font-size="8.2" fill="#2e2e36" stroke="#2e2e36" stroke-width="0.12" font-weight="normal">D-01</text>
<text transform="translate(371.85,340.64) scale(0.77,1)" text-anchor="middle" font-size="8.2" fill="#2e2e36" stroke="#2e2e36" stroke-width="0.12" font-weight="normal">8</text>
<text transform="translate(367.46,359.07) scale(0.77,1)" text-anchor="middle" font-size="8.2" fill="#2e2e36" stroke="#2e2e36" stroke-width="0.12" font-weight="normal">X-13</text>
<text transform="translate(478.85,339.99) scale(0.77,1)" text-anchor="middle" font-size="8.2" fill="#2e2e36" stroke="#2e2e36" stroke-width="0.12" font-weight="normal">8</text>
<text transform="translate(473.96,358.72) scale(0.77,1)" text-anchor="middle" font-size="8.2" fill="#2e2e36" stroke="#2e2e36" stroke-width="0.12" font-weight="normal">X-32</text>
<text transform="translate(556.85,339.51) scale(0.77,1)" text-anchor="middle" font-size="8.2" fill="#2e2e36" stroke="#2e2e36" stroke-width="0.12" font-weight="normal">9</text>
<text transform="translate(551.46,358.75) scale(0.77,1)" text-anchor="middle" font-size="8.2" fill="#2e2e36" stroke="#2e2e36" stroke-width="0.12" font-weight="normal">X-34</text>
<text transform="translate(272.55,373.45) scale(0.77,1)" text-anchor="middle" font-size="8.2" fill="#2e2e36" stroke="#2e2e36" stroke-width="0.12" font-weight="normal">10</text>
<text transform="translate(276.16,392.13) scale(0.77,1)" text-anchor="middle" font-size="8.2" fill="#2e2e36" stroke="#2e2e36" stroke-width="0.12" font-weight="normal">X-06</text>
<text transform="translate(326.05,373.62) scale(0.77,1)" text-anchor="middle" font-size="8.2" fill="#2e2e36" stroke="#2e2e36" stroke-width="0.12" font-weight="normal">4</text>
<text transform="translate(330.66,391.6) scale(0.77,1)" text-anchor="middle" font-size="8.2" fill="#2e2e36" stroke="#2e2e36" stroke-width="0.12" font-weight="normal">X-28</text>
<text transform="translate(397.05,373.19) scale(0.77,1)" text-anchor="middle" font-size="8.2" fill="#2e2e36" stroke="#2e2e36" stroke-width="0.12" font-weight="normal">11</text>
<text transform="translate(394.16,391.21) scale(0.77,1)" text-anchor="middle" font-size="8.2" fill="#2e2e36" stroke="#2e2e36" stroke-width="0.12" font-weight="normal">X-32</text>
<text transform="translate(466.55,372.77) scale(0.77,1)" text-anchor="middle" font-size="8.2" fill="#2e2e36" stroke="#2e2e36" stroke-width="0.12" font-weight="normal">15</text>
<text transform="translate(463.16,391.79) scale(0.77,1)" text-anchor="middle" font-size="8.2" fill="#2e2e36" stroke="#2e2e36" stroke-width="0.12" font-weight="normal">X-34</text>
<text transform="translate(522.49,412.93) scale(0.77,1)" text-anchor="middle" font-size="8.2" fill="#2e2e36" stroke="#2e2e36" stroke-width="0.12" font-weight="normal">A5</text>
<text transform="translate(575.49,412.6) scale(0.77,1)" text-anchor="middle" font-size="8.2" fill="#2e2e36" stroke="#2e2e36" stroke-width="0.12" font-weight="normal">A4</text>
<text transform="translate(655.79,412.11) scale(0.77,1)" text-anchor="middle" font-size="8.2" fill="#2e2e36" stroke="#2e2e36" stroke-width="0.12" font-weight="normal">A2</text>
<text transform="translate(730.3,413.66) scale(0.77,1)" text-anchor="middle" font-size="8.2" fill="#2e2e36" stroke="#2e2e36" stroke-width="0.12" font-weight="normal">B2</text>
<text transform="translate(730.36,423.66) scale(0.77,1)" text-anchor="middle" font-size="8.2" fill="#2e2e36" stroke="#2e2e36" stroke-width="0.12" font-weight="normal">(M+)</text>
<text transform="translate(760.3,413.47) scale(0.77,1)" text-anchor="middle" font-size="8.2" fill="#2e2e36" stroke="#2e2e36" stroke-width="0.12" font-weight="normal">B1</text>
<text transform="translate(760.36,423.47) scale(0.77,1)" text-anchor="middle" font-size="8.2" fill="#2e2e36" stroke="#2e2e36" stroke-width="0.12" font-weight="normal">(M−)</text>
<text transform="translate(791.3,413.28) scale(0.77,1)" text-anchor="middle" font-size="8.2" fill="#2e2e36" stroke="#2e2e36" stroke-width="0.12" font-weight="normal">B4</text>
<text transform="translate(791.36,423.28) scale(0.77,1)" text-anchor="middle" font-size="8.2" fill="#2e2e36" stroke="#2e2e36" stroke-width="0.12" font-weight="normal">(P)</text>
<text transform="translate(821.3,413.1) scale(0.77,1)" text-anchor="middle" font-size="8.2" fill="#2e2e36" stroke="#2e2e36" stroke-width="0.12" font-weight="normal">B5</text>
<text transform="translate(821.36,423.1) scale(0.77,1)" text-anchor="middle" font-size="8.2" fill="#2e2e36" stroke="#2e2e36" stroke-width="0.12" font-weight="normal">(W)</text>
<text transform="translate(852.3,412.91) scale(0.77,1)" text-anchor="middle" font-size="8.2" fill="#2e2e36" stroke="#2e2e36" stroke-width="0.12" font-weight="normal">B3</text>
<text transform="translate(852.36,422.91) scale(0.77,1)" text-anchor="middle" font-size="8.2" fill="#2e2e36" stroke="#2e2e36" stroke-width="0.12" font-weight="normal">(C)</text>
<text transform="translate(895.3,412.65) scale(0.77,1)" text-anchor="middle" font-size="8.2" fill="#2e2e36" stroke="#2e2e36" stroke-width="0.12" font-weight="normal">B6</text>
<text transform="translate(895.36,422.65) scale(0.77,1)" text-anchor="middle" font-size="8.2" fill="#2e2e36" stroke="#2e2e36" stroke-width="0.12" font-weight="normal">(B+)</text>
<text transform="translate(910.23,401.06) scale(0.77,1)" text-anchor="middle" font-size="8.2" fill="#2e2e36" stroke="#2e2e36" stroke-width="0.12" font-weight="normal">D-04</text>
<text transform="translate(888.13,303.69) scale(0.77,1)" text-anchor="middle" font-size="8.2" fill="#2e2e36" stroke="#2e2e36" stroke-width="0.12" font-weight="normal">1</text>
<text transform="translate(908.63,303.56) scale(0.77,1)" text-anchor="middle" font-size="8.2" fill="#2e2e36" stroke="#2e2e36" stroke-width="0.12" font-weight="normal">D-03</text>
<text transform="translate(199.34,421.9) scale(0.77,1)" text-anchor="middle" font-size="8.2" fill="#2e2e36" stroke="#2e2e36" stroke-width="0.12" font-weight="normal">14</text>
<text transform="translate(196.05,439.92) scale(0.77,1)" text-anchor="middle" font-size="8.2" fill="#2e2e36" stroke="#2e2e36" stroke-width="0.12" font-weight="normal">X-13</text>
<text transform="translate(291.34,421.34) scale(0.77,1)" text-anchor="middle" font-size="8.2" fill="#2e2e36" stroke="#2e2e36" stroke-width="0.12" font-weight="normal">12</text>
<text transform="translate(288.96,440.35) scale(0.77,1)" text-anchor="middle" font-size="8.2" fill="#2e2e36" stroke="#2e2e36" stroke-width="0.12" font-weight="normal">X-32</text>
<text transform="translate(383.34,421.28) scale(0.77,1)" text-anchor="middle" font-size="8.2" fill="#2e2e36" stroke="#2e2e36" stroke-width="0.12" font-weight="normal">12</text>
<text transform="translate(379.45,439.8) scale(0.77,1)" text-anchor="middle" font-size="8.2" fill="#2e2e36" stroke="#2e2e36" stroke-width="0.12" font-weight="normal">X-34</text>
<text transform="translate(476.46,440.21) scale(0.77,1)" text-anchor="middle" font-size="8.2" fill="#2e2e36" stroke="#2e2e36" stroke-width="0.12" font-weight="normal">D-04</text>
<text transform="translate(495.4,431.09) scale(0.77,1)" text-anchor="middle" font-size="8.2" fill="#2e2e36" stroke="#2e2e36" stroke-width="0.12" font-weight="normal">A1</text>
<text transform="translate(523.1,447.42) scale(0.77,1)" text-anchor="middle" font-size="8.2" fill="#2e2e36" stroke="#2e2e36" stroke-width="0.12" font-weight="normal">A6</text>
<text transform="translate(658,447.1) scale(0.77,1)" text-anchor="middle" font-size="8.2" fill="#2e2e36" stroke="#2e2e36" stroke-width="0.12" font-weight="normal">A3</text>
<text transform="translate(672.09,461.01) scale(0.77,1)" text-anchor="middle" font-size="8.2" fill="#2e2e36" stroke="#2e2e36" stroke-width="0.12" font-weight="normal">D-04</text>
<text transform="translate(170.25,488.08) scale(0.77,1)" text-anchor="middle" font-size="8.2" fill="#2e2e36" stroke="#2e2e36" stroke-width="0.12" font-weight="normal">50</text>
<text transform="translate(571.93,516.63) scale(0.77,1)" text-anchor="middle" font-size="8.2" fill="#2e2e36" stroke="#2e2e36" stroke-width="0.12" font-weight="normal">153</text>
<text transform="translate(646.93,516.67) scale(0.77,1)" text-anchor="middle" font-size="8.2" fill="#2e2e36" stroke="#2e2e36" stroke-width="0.12" font-weight="normal">51</text>
<text transform="translate(524.19,559.92) scale(0.77,1)" text-anchor="middle" font-size="8.2" fill="#2e2e36" stroke="#2e2e36" stroke-width="0.12" font-weight="normal">24</text>
<text transform="translate(191.79,330.87) scale(0.7,1)" text-anchor="middle" font-size="8.0" fill="#2e2e36" stroke="#2e2e36" stroke-width="0.12" font-weight="normal">WASHER</text>
<text transform="translate(223.79,330.68) scale(0.64,1)" text-anchor="middle" font-size="8.0" fill="#2e2e36" stroke="#2e2e36" stroke-width="0.12" font-weight="normal">WIPER</text>
<text transform="translate(259.78,330.46) scale(0.68,1)" text-anchor="middle" font-size="8.0" fill="#2e2e36" stroke="#2e2e36" stroke-width="0.12" font-weight="normal">INT</text>
<text transform="translate(639.33,173.35) scale(0.74,1)" text-anchor="middle" font-size="8.6" fill="#2e2e36" stroke="#2e2e36" stroke-width="0.12" font-weight="normal">ST</text>
<text transform="translate(655.33,173.26) scale(0.74,1)" text-anchor="middle" font-size="8.6" fill="#2e2e36" stroke="#2e2e36" stroke-width="0.12" font-weight="normal">IG2</text>
<text transform="translate(671.33,173.16) scale(0.74,1)" text-anchor="middle" font-size="8.6" fill="#2e2e36" stroke="#2e2e36" stroke-width="0.12" font-weight="normal">IG1</text>
<text transform="translate(688.83,173.05) scale(0.74,1)" text-anchor="middle" font-size="8.6" fill="#2e2e36" stroke="#2e2e36" stroke-width="0.12" font-weight="normal">ACC</text>
<circle cx="216.3" cy="88.8" r="7.2" fill="#b2e0be" stroke="#4e7456" stroke-width="1.1"/>
<text transform="translate(216.3,92.63) scale(0.78,1)" text-anchor="middle" font-size="10.5" fill="#2a332c" stroke="#2a332c" stroke-width="0.15" font-weight="normal">2</text>
<circle cx="215.8" cy="158.8" r="7.2" fill="#b2e0be" stroke="#4e7456" stroke-width="1.1"/>
<text transform="translate(215.8,162.63) scale(0.78,1)" text-anchor="middle" font-size="10.5" fill="#2a332c" stroke="#2a332c" stroke-width="0.15" font-weight="normal">3</text>
<circle cx="99.9" cy="189.5" r="7.2" fill="#b2e0be" stroke="#4e7456" stroke-width="1.1"/>
<text transform="translate(99.9,193.33) scale(0.78,1)" text-anchor="middle" font-size="10.5" fill="#2a332c" stroke="#2a332c" stroke-width="0.15" font-weight="normal">1</text>
<circle cx="710.8" cy="158.8" r="7.2" fill="#b2e0be" stroke="#4e7456" stroke-width="1.1"/>
<text transform="translate(710.8,162.63) scale(0.78,1)" text-anchor="middle" font-size="10.5" fill="#2a332c" stroke="#2a332c" stroke-width="0.15" font-weight="normal">4</text>
<circle cx="638.8" cy="247.2" r="7.2" fill="#b2e0be" stroke="#4e7456" stroke-width="1.1"/>
<text transform="translate(638.8,251.03) scale(0.78,1)" text-anchor="middle" font-size="10.5" fill="#2a332c" stroke="#2a332c" stroke-width="0.15" font-weight="normal">5</text>
<circle cx="283.7" cy="315.4" r="7.2" fill="#b2e0be" stroke="#4e7456" stroke-width="1.1"/>
<text transform="translate(283.7,319.23) scale(0.78,1)" text-anchor="middle" font-size="10.5" fill="#2a332c" stroke="#2a332c" stroke-width="0.15" font-weight="normal">6</text>
<circle cx="790.9" cy="265.3" r="7.2" fill="#b2e0be" stroke="#4e7456" stroke-width="1.1"/>
<text transform="translate(790.9,269.13) scale(0.78,1)" text-anchor="middle" font-size="10.5" fill="#2a332c" stroke="#2a332c" stroke-width="0.15" font-weight="normal">7</text>
<circle cx="180.8" cy="496" r="7.2" fill="#b2e0be" stroke="#4e7456" stroke-width="1.1"/>
<text transform="translate(180.8,499.83) scale(0.78,1)" text-anchor="middle" font-size="10.5" fill="#2a332c" stroke="#2a332c" stroke-width="0.15" font-weight="normal">8</text>
<circle cx="496.6" cy="466.1" r="7.2" fill="#b2e0be" stroke="#4e7456" stroke-width="1.1"/>
<text transform="translate(496.6,469.93) scale(0.78,1)" text-anchor="middle" font-size="10.5" fill="#2a332c" stroke="#2a332c" stroke-width="0.15" font-weight="normal">9</text>
<circle cx="583" cy="523.6" r="7.2" fill="#b2e0be" stroke="#4e7456" stroke-width="1.1"/>
<text transform="translate(583,527.43) scale(0.78,1)" text-anchor="middle" font-size="10.5" fill="#2a332c" stroke="#2a332c" stroke-width="0.15" font-weight="normal">10</text>
<circle cx="658" cy="523.1" r="7.2" fill="#b2e0be" stroke="#4e7456" stroke-width="1.1"/>
<text transform="translate(658,526.93) scale(0.78,1)" text-anchor="middle" font-size="10.5" fill="#2a332c" stroke="#2a332c" stroke-width="0.15" font-weight="normal">11</text>
</g>
<path d="M161.3,598 L165.5,578 Q166,576 167.5,576 Q169,576 169.5,578 L170,598 Z" fill="#8d6450"/>
<path d="M230.5,598 L231,578 Q231.5,576 234,576 Q237,576 237.5,578 L240,598 Z" fill="#8d6450"/>
<rect x="180" y="588.4" width="3.7" height="10" fill="#9a6a50" stroke="#7a4a34" stroke-width="0.4"/>
<rect x="217" y="588.4" width="4" height="10" fill="#9a6a50" stroke="#7a4a34" stroke-width="0.4"/>
<path d="M187.3,576.3 H211 Q213,576.3 213,578.5 V582.6 H209.4 V598 H191 V582.6 H187.3 Z" fill="#9c6240" stroke="#7a4a30" stroke-width="0.6"/>
<rect x="196.8" y="586" width="7.2" height="2.5" fill="#f4f4f6"/>
<rect x="125.4" y="598" width="149.5" height="31.5" rx="3.5" fill="#8c5a3e"/>
<rect x="128.5" y="599" width="20" height="13.4" fill="#f6f4f2"/>
<polygon points="128.5,612.4 148.5,599 148.5,612.4" fill="#ef8a3a"/>
<rect x="128.5" y="605.2" width="20" height="1.8" fill="#f6f4f2"/>
<text transform="translate(138.5,608.7) scale(0.9,1)" text-anchor="middle" font-size="8.2" fill="#3a3a3a">1</text>
<rect x="148.5" y="599" width="19.9" height="13.4" fill="#f2e85a"/>
<polygon points="148.5,612.4 168.4,599 168.4,612.4" fill="#ef8a3a"/>
<text transform="translate(158.45,608.7) scale(0.9,1)" text-anchor="middle" font-size="8.2" fill="#3a3a3a">2</text>
<rect x="168.4" y="599" width="19.8" height="13.4" fill="#a6d874"/>
<text transform="translate(178.3,608.7) scale(0.9,1)" text-anchor="middle" font-size="8.2" fill="#3a3a3a">3</text>
<rect x="188.2" y="599" width="19.8" height="13.4" fill="#f6f6f6"/>
<text transform="translate(198.1,608.7) scale(0.9,1)" text-anchor="middle" font-size="8.2" fill="#3a3a3a">4</text>
<rect x="212.5" y="599" width="19.3" height="13.4" fill="#f4ea62"/>
<text transform="translate(222.15,608.7) scale(0.9,1)" text-anchor="middle" font-size="8.2" fill="#3a3a3a">5</text>
<rect x="231.8" y="599" width="19.8" height="13.4" fill="#f4f4f4"/>
<text transform="translate(241.7,608.7) scale(0.9,1)" text-anchor="middle" font-size="8.2" fill="#3a3a3a">6</text>
<rect x="251.6" y="599" width="19.7" height="13.4" fill="#f4ea5a"/>
<text transform="translate(261.45,608.7) scale(0.9,1)" text-anchor="middle" font-size="8.2" fill="#3a3a3a">7</text>
<rect x="128.5" y="612.4" width="20" height="13.8" fill="#3a2f30"/>
<text transform="translate(138.5,622.3) scale(0.9,1)" text-anchor="middle" font-size="8.2" fill="#9a9090">8</text>
<rect x="148.5" y="612.4" width="19.9" height="13.8" fill="#f2e85a"/>
<polygon points="148.5,626.2 168.4,612.4 168.4,626.2" fill="#3a2f30"/>
<text transform="translate(158.45,622.3) scale(0.9,1)" text-anchor="middle" font-size="8.2" fill="#8a8070">9</text>
<rect x="168.4" y="612.4" width="19.8" height="13.8" fill="#f6f6f6"/>
<text transform="translate(178.3,622.3) scale(0.9,1)" text-anchor="middle" font-size="8.2" fill="#3a3a3a">10</text>
<rect x="188.2" y="612.4" width="19.8" height="13.8" fill="#2a9fe0"/>
<polygon points="188.2,626.2 208,612.4 208,626.2" fill="#3a2f30"/>
<text transform="translate(198.1,622.3) scale(0.9,1)" text-anchor="middle" font-size="8.2" fill="#7a8a9a">11</text>
<rect x="212.5" y="612.4" width="19.3" height="13.8" fill="#f2e85a"/>
<polygon points="212.5,626.2 231.8,612.4 231.8,626.2" fill="#ef7a30"/>
<text transform="translate(222.15,622.3) scale(0.9,1)" text-anchor="middle" font-size="8.2" fill="#3a3a3a">12</text>
<rect x="231.8" y="612.4" width="19.8" height="13.8" fill="#a6d874"/>
<polygon points="231.8,626.2 251.6,612.4 251.6,626.2" fill="#3a2f30"/>
<text transform="translate(241.7,622.3) scale(0.9,1)" text-anchor="middle" font-size="8.2" fill="#8a8a80">13</text>
<rect x="251.6" y="612.4" width="19.7" height="13.8" fill="#bcbcc0"/>
<text transform="translate(261.45,622.3) scale(0.9,1)" text-anchor="middle" font-size="8.2" fill="#3a3a3a">14</text>
<g stroke="#6a4a3a" stroke-width="0.7">
<line x1="148.5" y1="599" x2="148.5" y2="626.2"/>
<line x1="168.4" y1="599" x2="168.4" y2="626.2"/>
<line x1="188.2" y1="599" x2="188.2" y2="626.2"/>
<line x1="231.8" y1="599" x2="231.8" y2="626.2"/>
<line x1="251.6" y1="599" x2="251.6" y2="626.2"/>
<line x1="128.5" y1="612.4" x2="208" y2="612.4"/><line x1="212.5" y1="612.4" x2="271.3" y2="612.4"/>
</g>
<rect x="208" y="588" width="4.5" height="38" fill="#9a6448"/>
<line x1="208" y1="600" x2="212.5" y2="600" stroke="#5a3a2a" stroke-width="0.6"/>
<line x1="208" y1="604" x2="212.5" y2="604" stroke="#5a3a2a" stroke-width="0.6"/>
<line x1="208" y1="608" x2="212.5" y2="608" stroke="#5a3a2a" stroke-width="0.6"/>
<line x1="208" y1="612" x2="212.5" y2="612" stroke="#5a3a2a" stroke-width="0.6"/>
<line x1="208" y1="616" x2="212.5" y2="616" stroke="#5a3a2a" stroke-width="0.6"/>
<line x1="208" y1="620" x2="212.5" y2="620" stroke="#5a3a2a" stroke-width="0.6"/>
<text transform="translate(104,612.42) scale(0.86,1)" text-anchor="middle" font-size="8" fill="#2e2e36" stroke="#2e2e36" stroke-width="0.12" font-weight="normal">D-01</text>
<text transform="translate(320,612.92) scale(0.86,1)" text-anchor="middle" font-size="8" fill="#2e2e36" stroke="#2e2e36" stroke-width="0.12" font-weight="normal">D-03</text>
<rect x="337.6" y="620" width="33.5" height="2.8" fill="#7a5a4a"/>
<path d="M342.1,620 V590.5 Q342.1,587.9 344.7,587.9 H363.7 Q366.3,587.9 366.3,590.5 V620 Z" fill="#c49a6e" stroke="#6a5048" stroke-width="0.7"/>
<rect x="342.5" y="594.5" width="23.4" height="11" fill="#b47e5e"/>
<rect x="349" y="594.5" width="10.5" height="9" fill="#c89070" stroke="#8a6048" stroke-width="0.5"/>
<rect x="342.5" y="605.5" width="23.4" height="14.5" fill="#b2e08a"/>
<text transform="translate(354.2,615.5) scale(0.9,1)" text-anchor="middle" font-size="8.2" fill="#3a3a3a">1</text>
<rect x="447.3" y="593.5" width="12.7" height="20.5" rx="3" fill="#4a4347"/>
<rect x="519.5" y="593.5" width="12.5" height="20.5" rx="3" fill="#4a4347"/>
<rect x="459" y="595.5" width="62" height="9" fill="#b88858"/>
<rect x="459" y="597.5" width="62" height="2" fill="#d8b078"/>
<rect x="455" y="603.5" width="69.5" height="24.5" fill="#4a4347"/>
<rect x="455" y="626" width="6.5" height="5" rx="1.5" fill="#4a4347"/>
<rect x="517.5" y="626" width="6.5" height="5" rx="1.5" fill="#4a4347"/>
<rect x="469.3" y="580.3" width="41.5" height="8.5" rx="4" fill="#4a4347"/>
<rect x="474.7" y="586" width="30.3" height="18" fill="#4a4347"/>
<rect x="483" y="597" width="13" height="6" fill="none" stroke="#6a6064" stroke-width="0.8"/>
<rect x="472.7" y="603.8" width="34.2" height="11.2" fill="#a86e48"/>
<rect x="455.6" y="603.8" width="17.1" height="11.2" fill="#9ed470"/>
<polygon points="455.6,615 472.7,603.8 472.7,615" fill="#3a3234"/>
<text transform="translate(464.15,612.4) scale(0.9,1)" text-anchor="middle" font-size="8.2" fill="#6a6a5a">1</text>
<rect x="506.9" y="603.8" width="17.1" height="11.2" fill="#f8f8f8"/>
<text transform="translate(515.45,612.4) scale(0.9,1)" text-anchor="middle" font-size="8.2" fill="#333">2</text>
<rect x="455.6" y="615" width="17.1" height="12" fill="#e8582e"/>
<polygon points="455.6,627 472.7,615 472.7,627" fill="#ee7c3c"/>
<text transform="translate(464.15,624) scale(0.9,1)" text-anchor="middle" font-size="8.2" fill="#5a2a20">3</text>
<rect x="472.7" y="615" width="17.1" height="12" fill="#2aa4e4"/>
<polygon points="472.7,627 489.8,615 489.8,627" fill="#3a3234"/>
<text transform="translate(481.25,624) scale(0.9,1)" text-anchor="middle" font-size="8.2" fill="#6a8090">4</text>
<rect x="489.8" y="615" width="17.1" height="12" fill="#f4ec5a"/>
<polygon points="489.8,627 506.9,615 506.9,627" fill="#ee8034"/>
<text transform="translate(498.35,624) scale(0.9,1)" text-anchor="middle" font-size="8.2" fill="#6a3a20">5</text>
<rect x="506.9" y="615" width="17.1" height="12" fill="#3a3234"/>
<text transform="translate(515.45,624) scale(0.9,1)" text-anchor="middle" font-size="8.2" fill="#9a9294">6</text>
<rect x="455.6" y="620.5" width="17.1" height="1.2" fill="#c04a2a"/>
<rect x="605.8" y="594.5" width="12.7" height="20.5" rx="3" fill="#4a4347"/>
<rect x="678" y="594.5" width="12.5" height="20.5" rx="3" fill="#4a4347"/>
<rect x="617.5" y="596.5" width="62" height="9" fill="#b88858"/>
<rect x="617.5" y="598.5" width="62" height="2" fill="#d8b078"/>
<rect x="613.5" y="604.5" width="69.5" height="24.5" fill="#4a4347"/>
<rect x="613.5" y="627" width="6.5" height="5" rx="1.5" fill="#4a4347"/>
<rect x="676" y="627" width="6.5" height="5" rx="1.5" fill="#4a4347"/>
<rect x="627.8" y="581.3" width="41.5" height="8.5" rx="4" fill="#4a4347"/>
<rect x="633.2" y="587" width="30.3" height="18" fill="#4a4347"/>
<rect x="641.5" y="598" width="13" height="6" fill="none" stroke="#6a6064" stroke-width="0.8"/>
<rect x="631.2" y="604.8" width="34.2" height="11.2" fill="#a86e48"/>
<rect x="614.1" y="604.8" width="17.1" height="11.2" fill="#3a3234"/>
<polygon points="614.1,616 631.2,604.8 631.2,616" fill="#2aa4e4"/>
<text transform="translate(622.65,613.4) scale(0.9,1)" text-anchor="middle" font-size="8.2" fill="#6a8090">1</text>
<rect x="665.4" y="604.8" width="17.1" height="11.2" fill="#3a3234"/>
<polygon points="665.4,616 682.5,604.8 682.5,616" fill="#e8503a"/>
<text transform="translate(673.95,613.4) scale(0.9,1)" text-anchor="middle" font-size="8.2" fill="#7a4a40">2</text>
<rect x="614.1" y="616" width="17.1" height="12" fill="#3a3234"/>
<text transform="translate(622.65,625) scale(0.9,1)" text-anchor="middle" font-size="8.2" fill="#9a9294">3</text>
<rect x="631.2" y="616" width="17.1" height="12" fill="#3a3234"/>
<polygon points="631.2,628 648.3,616 648.3,628" fill="#f0e850"/>
<text transform="translate(639.75,625) scale(0.9,1)" text-anchor="middle" font-size="8.2" fill="#8a8050">4</text>
<rect x="648.3" y="616" width="17.1" height="12" fill="#3a3234"/>
<polygon points="648.3,628 665.4,616 665.4,628" fill="#f0f0f0"/>
<text transform="translate(656.85,625) scale(0.9,1)" text-anchor="middle" font-size="8.2" fill="#8a8a8a">5</text>
<rect x="665.4" y="616" width="17.1" height="12" fill="#e8503a"/>
<text transform="translate(673.95,625) scale(0.9,1)" text-anchor="middle" font-size="8.2" fill="#f0b0a0">6</text>
<text transform="translate(422.5,607.92) scale(0.86,1)" text-anchor="middle" font-size="8" fill="#2e2e36" stroke="#2e2e36" stroke-width="0.12" font-weight="normal">D-041</text>
<text transform="translate(422,618.92) scale(0.86,1)" text-anchor="middle" font-size="8" fill="#2e2e36" stroke="#2e2e36" stroke-width="0.12" font-weight="normal">(A)</text>
<text transform="translate(583.5,609.92) scale(0.86,1)" text-anchor="middle" font-size="8" fill="#2e2e36" stroke="#2e2e36" stroke-width="0.12" font-weight="normal">D-04</text>
<text transform="translate(583,620.42) scale(0.86,1)" text-anchor="middle" font-size="8" fill="#2e2e36" stroke="#2e2e36" stroke-width="0.12" font-weight="normal">(B)</text>
<g transform="rotate(0.35 512 362)">
<text x="57" y="672.4" font-size="9" fill="#3e3e46" stroke="#3e3e46" stroke-width="0.15" textLength="874.5" lengthAdjust="spacingAndGlyphs"><tspan font-weight="bold">Схема 10. Стеклоочистители и омыватели окна двери задка:</tspan> 1 – аккумуляторная батарея; 2 – реле замка зажигания; 3 – реле подрулевого переключателя очистителя и омывателя ветрового стекла и стекла двери задка; 4 – выключатель</text>
<text x="57" y="682.8" font-size="9" fill="#3e3e46" stroke="#3e3e46" stroke-width="0.15" textLength="874.5" lengthAdjust="spacingAndGlyphs">(замок) зажигания; 5 – предохранитель омывателя стекла двери задка; 6 – подрулевой переключатель очистителя и омывателя ветрового стекла и стекла двери задка; 7 – моторедуктор стеклоочистителя окна двери задка; 8 – электронасос</text>
<text x="57" y="692.9" font-size="9" fill="#3e3e46" stroke="#3e3e46" stroke-width="0.15" textLength="746" lengthAdjust="spacingAndGlyphs">омывателя ветрового стекла и стекла двери задка; 9 – блок управления стеклоочистителем окна двери задка; 10 – привод стекла окна двери задка; 11 – блок управления кузовным электрооборудованием</text>
<rect x="56.5" y="699.2" width="875" height="1.8" fill="#5cbcec"/>
</g>
</svg></body></html>
